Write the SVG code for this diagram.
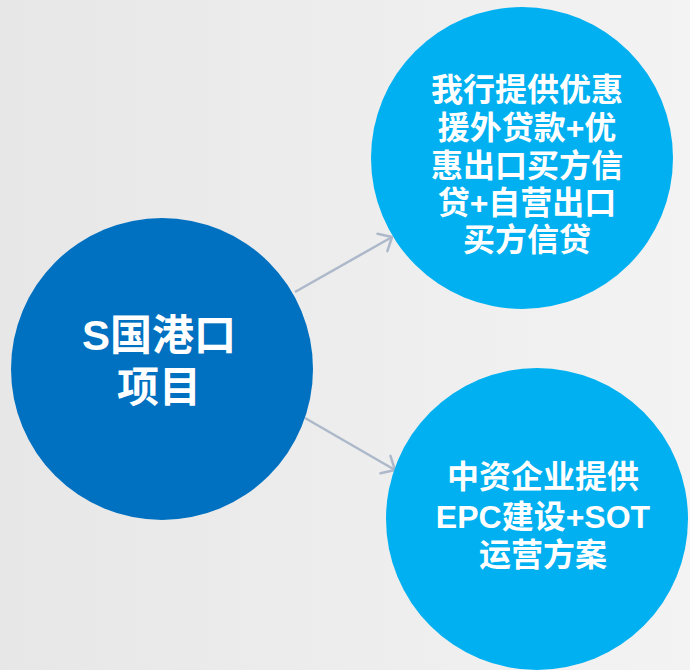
<svg xmlns="http://www.w3.org/2000/svg" width="690" height="670" viewBox="0 0 690 670">
  <defs>
    <linearGradient id="bg" x1="0" y1="0" x2="1" y2="0">
      <stop offset="0" stop-color="#e7e7e7"/>
      <stop offset="1" stop-color="#f3f3f3"/>
    </linearGradient>
    <marker id="arrow" markerUnits="userSpaceOnUse" markerWidth="30" markerHeight="30" viewBox="-15 -15 30 30" refX="0" refY="0" orient="auto">
      <path d="M-11,-10 L0,0 L-11,10" fill="none" stroke="#adb9ca" stroke-width="2.5" stroke-linecap="round" stroke-linejoin="round"/>
    </marker>
  </defs>
  <style>
    .big { fill: #0070c0; }
    .small { fill: #00b0f0; }
    .t { fill: #ffffff; font-family: "Liberation Sans", "Noto Sans CJK SC", sans-serif; font-weight: bold; text-anchor: middle; }
    .t32 { font-size: 32px; }
    .t42 { font-size: 42px; }
    .conn { stroke: #adb9ca; stroke-width: 2.5; fill: none; marker-end: url(#arrow); }
  </style>
  <rect x="0" y="0" width="690" height="670" fill="url(#bg)"/>
  <g id="connectors">
    <line class="conn" x1="295" y1="292" x2="392" y2="237"/>
    <line class="conn" x1="305" y1="418" x2="395" y2="470"/>
  </g>
  <g id="node-project">
    <circle class="big" cx="162" cy="369" r="151"/>
    <text class="t t42" x="159" y="350">S国港口</text>
    <text class="t t42" x="159" y="402">项目</text>
  </g>
  <g id="node-finance">
    <circle class="small" cx="522" cy="158" r="151"/>
    <text class="t t32" x="527" y="101">我行提供优惠</text>
    <text class="t t32" x="527" y="139">援外贷款+优</text>
    <text class="t t32" x="527" y="177">惠出口买方信</text>
    <text class="t t32" x="527" y="214">贷+自营出口</text>
    <text class="t t32" x="527" y="251">买方信贷</text>
  </g>
  <g id="node-epc">
    <circle class="small" cx="537" cy="519" r="151"/>
    <text class="t t32" x="543" y="488">中资企业提供</text>
    <text class="t t32" x="543" y="528">EPC建设+SOT</text>
    <text class="t t32" x="543" y="566">运营方案</text>
  </g>
</svg>
